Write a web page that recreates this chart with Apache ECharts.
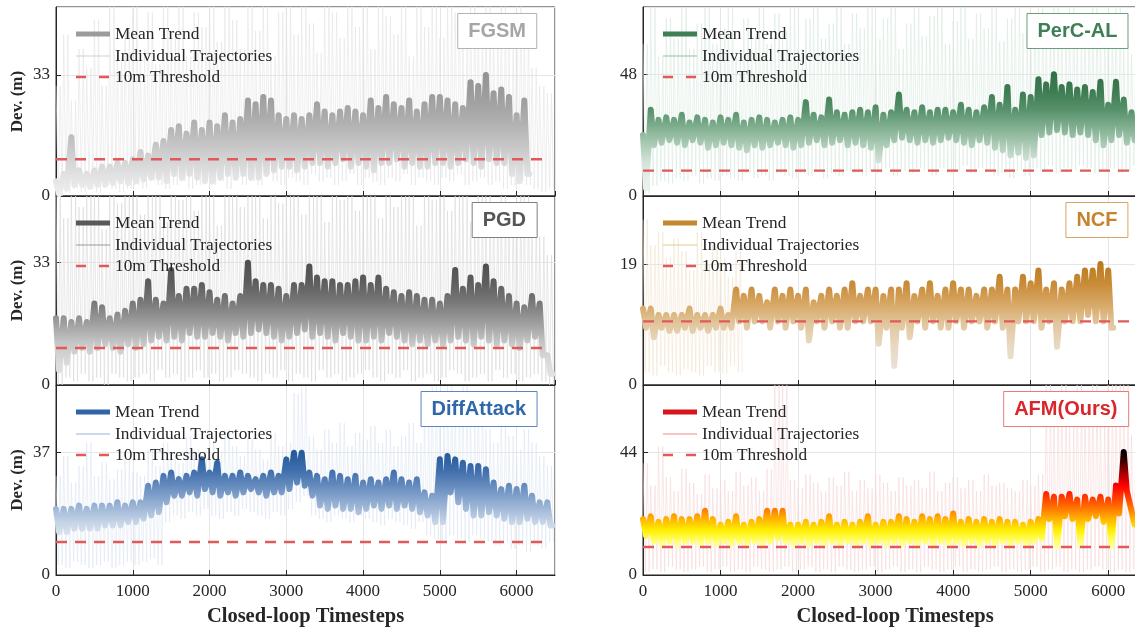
<!DOCTYPE html>
<html>
<head>
<meta charset="utf-8">
<script src="https://cdn.jsdelivr.net/npm/echarts@6/dist/echarts.min.js"></script>
<style>
html,body{margin:0;padding:0;background:#fff}
#main{width:1135px;height:627px}
</style>
</head>
<body>
<div id="main"></div>
<script>
// panel order: left/right, top to bottom
var panelNames = ['FGSM', 'PerC-AL', 'PGD', 'NCF', 'DiffAttack', 'AFM(Ours)']
var yTickVals = [33, 48, 33, 19, 37, 44]
var yMaxVals = [51.5, 74.5, 51, 29.7, 57.5, 68]
var xTickVals = [0, 1000, 2000, 3000, 4000, 5000, 6000]
var xMax = 6500
var binStep = 100
var threshold = 10
var thresholdEnd = [6380, 6500, 6360, 6500, 6380, 6500]
var legendNames = ['Mean Trend', 'Individual Trajectories', '10m Threshold']

// mean trend: upper / lower edge of the jagged band per 100-step bin
var fgsmHi = [4,6,16,7,6,7,8,8,9,9, 10,12,11,14,15,18,19,17,20,18, 20,19,22,20,21,26,25,27,26,22,
  21,22,21,22,25,23,22,23,24,23, 22,26,24,27,25,24,26,23,25,27, 27,26,25,24,31,30,33,28,29,27, 22,26]
var fgsmLo = [0.5,2,3,3,2.5,3,3,3.5,4,3.5, 4,4.5,5,5,4,6,5,6,5,4, 4,5,6,5,6,5,5,6,7,8,
  8,7,8,9,9,8,9,10,8,9, 8,7,9,9,10,8,9,8,8,9, 9,8,9,10,9,8,10,9,9,6, 4,6]

var percHi = [24,34,30,31,30,32,29,31,30,29, 31,30,32,29,30,31,30,29,30,31, 30,37,32,31,38,33,32,33,34,33,
  35,32,33,40,34,33,35,33,34,34, 33,36,34,33,35,39,36,43,34,40, 39,46,44,48,43,44,42,43,41,45, 36,45,38,33]
var percLo = [3,20,21,22,21,20,22,21,19,20, 21,20,19,18,20,19,20,21,20,19, 20,21,22,20,21,22,20,21,20,19,
  14,20,22,23,22,21,22,21,22,23, 22,21,20,22,21,19,18,16,17,15, 16,24,25,26,25,24,25,24,22,20, 22,24,21,22]

var pgdHi = [18,18,17,18,17,22,21,18,19,20, 22,23,28,23,22,31,24,26,26,27, 25,23,24,22,24,33,28,27,27,26,
  24,27,27,32,29,28,28,27,27,28, 29,27,29,26,25,24,25,24,23,23, 22,24,31,26,29,27,32,28,26,24, 22,21,24,22,8]
var pgdLo = [4,6,9,10,9,10,11,10,9,11, 10,11,12,13,12,13,12,14,13,13, 14,13,12,14,13,14,15,14,13,12,
  13,14,15,13,14,13,12,14,13,12, 12,13,12,14,13,12,11,12,11,12, 11,12,13,12,11,13,12,11,12,11, 10,12,13,8,3]

var ncfHi = [12,12,11,11,11,11,12,11,11,11, 12,11,15,14,15,14,13,15,14,15, 14,15,13,14,15,14,15,16,14,15,
  15,14,15,15,16,14,15,16,14,15, 16,15,15,14,15,15,17,15,15,17, 16,18,15,16,15,16,17,18,18,19, 18]
var ncfLo = [9,7.5,9,8.5,8.5,9,8.5,9,8.5,9, 9,9,10,9,10,10,9,10,9,10, 9,7,10,9,10,9,9,10,10,10,
  6.5,9,3,9,7.5,10,9,10,9,9, 10,9,10,10,9,10,9,4.5,10,10, 10,9,10,6,10,10,10,11,10,10, 9]

var diffHi = [20,20,20,21,20,21,21,21,22,21, 22,22,27,28,30,31,29,30,31,35, 31,34,30,30,31,30,29,30,31,30,
  35,37,37,31,30,29,31,30,29,30, 28,29,28,29,31,29,28,29,25,24, 35,36,35,34,33,33,32,28,26,27, 26,27,24,22,22]
var diffLo = [13,13,14,14,14,14,15,15,15,16, 16,17,18,19,22,24,24,25,24,26, 25,24,25,24,25,26,25,24,25,25,
  26,28,27,24,21,20,21,20,20,19, 20,21,20,21,20,21,20,19,18,16, 16,25,22,20,18,18,19,18,17,16, 16,17,16,16,15]

var afmHi = [20,21,19,20,21,20,20,21,23,20, 18,19,21,18,19,20,23,23,23,18, 18,19,18,19,21,18,19,18,19,21,
  18,19,19,21,20,19,21,20,21,20, 22,19,20,19,20,19,20,19,19,18, 19,20,29,28,28,29,27,28,27,28, 27,32,44,23]
var afmLo = [14,12,11,12,11,12,12,11,12,11, 12,11,12,11,12,11,12,13,12,11, 12,11,12,11,12,11,12,11,12,11,
  12,11,12,11,12,11,12,11,12,11, 12,11,12,11,12,11,12,11,12,11, 12,13,20,10,21,20,11,20,21,19, 10,22,30,18]

// individual trajectories: upper / lower reach per 100-step bin
var fgsmTrajHi = [30,44,26,40,35,48,30,52,38,45, 52,40,50,36,52,44,52,38,50,46, 52,42,52,48,40,52,45,52,38,50,
  52,44,52,47,39,52,50,43,52,46, 52,40,52,49,44,52,38,52,46,52, 43,52,50,41,52,47,52,44,52,40, 52,46,35,30,28]
var fgsmTrajLo = [0,1,2,1,2,1,3,2,1,2, 3,2,4,3,2,3,4,2,3,5, 3,4,2,5,3,4,3,6,4,3,
  5,4,3,6,4,5,3,4,6,3, 5,4,3,5,4,6,3,5,4,3, 5,4,6,3,4,5,3,4,2,3, 4,3,2,1,2]

var percTrajHi = [60,74,55,70,62,74,58,68,74,60, 66,74,57,70,63,74,60,72,65,74, 58,70,74,62,68,74,60,72,66,74,
  62,70,74,58,68,74,63,71,74,60, 69,74,62,72,66,74,61,70,74,64, 72,74,66,74,68,74,63,72,74,66, 70,74,60,56]
var percTrajLo = [1,4,6,5,7,6,8,5,7,6, 8,7,6,9,7,8,6,9,8,7, 9,8,10,7,9,8,10,9,8,10,
  9,11,8,10,9,11,10,8,11,9, 10,12,9,11,10,8,9,7,10,8, 11,10,12,9,11,10,12,11,9,10, 11,9,10,12]

var pgdTrajHi = [51,45,51,48,51,51,42,51,49,51, 51,46,51,51,44,51,50,51,47,51, 51,43,51,51,48,51,51,45,51,49,
  51,51,46,51,51,44,51,50,51,47, 51,51,45,51,48,51,51,43,51,50, 51,47,51,51,44,51,51,49,51,46, 51,51,45,40,35]
var pgdTrajLo = [0,2,1,3,1,2,0,3,2,1, 2,3,1,4,2,3,1,2,4,2, 3,1,2,4,3,2,1,3,2,4,
  1,3,2,1,4,2,3,1,2,3, 4,2,1,3,2,4,1,2,3,1, 2,4,3,1,2,3,1,4,2,3, 1,2,3,1,0]

var ncfTrajHi = [26,22,24,20,23,21,18,24,19,22,20,17,21]
var ncfTrajLo = [2,1.5,3,2,1.5,2.5,2,1.5,3,2,1.8,3,2]

var diffTrajHi = [30,36,28,33,40,30,34,29,32,35, 31,30,38,33,40,36,34,42,38,35, 40,37,44,39,36,41,38,35,43,39,
  40,55,57,42,38,44,40,46,39,43, 41,45,40,44,39,42,46,40,48,57, 50,57,52,57,48,55,44,40,46,42, 38,44,40,36,33]
var diffTrajLo = [3,2,4,3,2,3,4,2,3,4, 3,4,5,3,16,18,17,19,18,20, 18,17,19,18,20,19,18,17,19,18,
  20,22,24,18,17,16,18,17,16,18, 17,16,15,17,16,15,14,16,12,11, 10,12,11,10,12,11,10,9,10,8, 9,7,9,8,10]

var afmTrajHi = [40,32,46,35,30,38,33,29,36,31, 34,30,37,32,35,30,38,68,68,34, 31,36,33,30,35,32,37,30,34,31,
  36,33,30,35,32,34,31,37,30,33, 35,31,34,30,36,32,33,31,30,34, 32,36,68,60,68,55,68,64,68,58, 68,68,68,50,40]
var afmTrajLo = [1,2,1,3,2,1,2,3,1,2, 3,1,2,1,3,2,1,2,3,1, 2,3,1,2,1,3,2,1,2,3,
  1,2,3,1,2,1,3,2,1,2, 3,1,2,1,2,3,1,2,1,2, 3,1,2,3,1,2,1,2,3,2, 1,2,1,2,3]

var meanHi = [fgsmHi, percHi, pgdHi, ncfHi, diffHi, afmHi]
var meanLo = [fgsmLo, percLo, pgdLo, ncfLo, diffLo, afmLo]
var trajHi = [fgsmTrajHi, percTrajHi, pgdTrajHi, ncfTrajHi, diffTrajHi, afmTrajHi]
var trajLo = [fgsmTrajLo, percTrajLo, pgdTrajLo, ncfTrajLo, diffTrajLo, afmTrajLo]

// styles
var gridPos = [
  {left: 56, top: 7, width: 499, height: 189},
  {left: 643, top: 7, width: 504, height: 189},
  {left: 56, top: 196, width: 499, height: 189},
  {left: 643, top: 196, width: 504, height: 189},
  {left: 56, top: 385, width: 499, height: 190},
  {left: 643, top: 385, width: 504, height: 190}
]
var meanGrad = [
  ['#efefef', '#e2e2e2', '#d0d0d0', '#bcbcbc', '#aaaaaa', '#9d9d9d', '#939393'],
  ['#eef4f0', '#e6efe9', '#d0e2d6', '#a9c9b3', '#7fae8e', '#56906a', '#3e7c53', '#356f49'],
  ['#e6e6e6', '#dcdcdc', '#c8c8c8', '#a0a0a0', '#7a7a7a', '#5e5e5e', '#4e4e4e'],
  ['#f0ebe4', '#e8e0d4', '#e8d8c0', '#e2c79f', '#d7a866', '#c98c38', '#bb7a1e'],
  ['#eef2f7', '#eaeff5', '#e2e9f2', '#c5d4e7', '#98b2d4', '#6a8fc0', '#3f6eac', '#255a9c'],
  ['#ffffff', '#ffffff', '#ffffd8', '#ffff70', '#fff000', '#ffb400', '#ff7400', '#ff3800', '#ff0000', '#b00000', '#500000', '#000000']
]
var trajColors = ['#e4e4e4', '#d8eadf', '#d8d8d8', '#f2e4cf', '#dde6f2', '#f7d6d6']
var legendMeanColors = ['#9b9b9b', '#3f7f55', '#595959', '#c4862e', '#2f65a8', '#d8141c']
var legendTrajColors = ['#cfcfcf', '#93bf9f', '#9a9a9a', '#e8c99a', '#98b4da', '#f08a8a']
var titleColors = ['#a6a6a6', '#3f7f55', '#555555', '#c4832c', '#2f67ab', '#d9262a']
var titleBorders = ['#b3b3b3', '#6b9c7c', '#7f7f7f', '#d7a562', '#5b86c0', '#e87a7a']
var threshColor = '#e05a5a'
var axisColor = '#262626'
var serif = 'Liberation Serif'

// jagged line: walks through the band edges at the given offsets inside each bin
function band(hi, lo, offs, pick) {
  var pts = []
  for (var i = 0; i < hi.length; i++) {
    for (var j = 0; j < offs.length; j++) {
      pts.push([i * binStep + offs[j], pick[j] ? hi[i] : lo[i]])
    }
  }
  return pts
}

var grids = [], xAxes = [], yAxes = [], series = [], visualMaps = [], titles = [], graphics = []

panelNames.forEach(function (name, k) {
  var g = gridPos[k]
  var isLeft = k % 2 === 0
  var isBottom = k >= 4
  grids.push({left: g.left, top: g.top, width: g.width, height: g.height,
    outerBoundsMode: 'none', containLabel: false,
    show: true, borderColor: axisColor, borderWidth: 1, backgroundColor: '#fff'})
  xAxes.push({
    type: 'value', gridIndex: k, min: 0, max: xMax, interval: 1000,
    name: isBottom ? 'Closed-loop Timesteps' : '',
    nameLocation: 'middle', nameGap: 31,
    nameTextStyle: {fontFamily: serif, fontWeight: 'bold', fontSize: 20.5, color: axisColor},
    axisLine: {show: true, lineStyle: {color: axisColor, width: 1}},
    axisTick: {show: true, inside: true, length: 5, lineStyle: {color: axisColor}},
    axisLabel: {show: isBottom, showMaxLabel: false, margin: 8,
      fontFamily: serif, fontSize: 17, color: axisColor,
      formatter: function (v) { return String(v) }},
    splitLine: {show: true, lineStyle: {color: '#e6e6e6', width: 1}}
  })
  yAxes.push({
    type: 'value', gridIndex: k, min: 0, max: yMaxVals[k], interval: yTickVals[k],
    name: isLeft ? 'Dev. (m)' : '',
    nameLocation: 'middle', nameGap: 30, nameRotate: 90,
    nameTextStyle: {fontFamily: serif, fontWeight: 'bold', fontSize: 17, color: axisColor},
    axisLine: {show: true, lineStyle: {color: axisColor, width: 1}},
    axisTick: {show: true, inside: true, length: 5, lineStyle: {color: axisColor}},
    axisLabel: {showMaxLabel: false, margin: 6, fontFamily: serif, fontSize: 17, color: axisColor},
    splitLine: {show: true, lineStyle: {color: '#e6e6e6', width: 1}}
  })
  series.push({
    name: legendNames[1], type: 'line', xAxisIndex: k, yAxisIndex: k,
    data: band(trajHi[k], trajLo[k], [0, 30, 55, 80], [1, 0, 1, 0]), symbol: 'none', silent: true, z: 1,
    lineStyle: {color: trajColors[k], width: 0.8, opacity: 0.75}
  })
  series.push({
    name: legendNames[0], type: 'line', xAxisIndex: k, yAxisIndex: k,
    data: band(meanHi[k], meanLo[k], [0, 40, 65], [1, 0, 0]), symbol: 'none', silent: true, z: 3,
    lineStyle: {width: 6, join: 'round', cap: 'round'}
  })
  series.push({
    name: legendNames[2], type: 'line', xAxisIndex: k, yAxisIndex: k,
    data: [[0, threshold], [thresholdEnd[k], threshold]], symbol: 'none', silent: true, z: 4,
    lineStyle: {color: threshColor, width: 2.4, type: [11, 8]}
  })
  var hiMax = Math.max.apply(null, meanHi[k])
  visualMaps.push({
    type: 'continuous', show: false, seriesIndex: k * 3 + 1, dimension: 1,
    min: 0, max: hiMax, inRange: {color: meanGrad[k]}
  })
  titles.push({
    text: name,
    right: isLeft ? 598 : 6.5,
    top: g.top + 6,
    padding: [8, 11],
    borderColor: titleBorders[k], borderWidth: 1, backgroundColor: '#fff',
    textStyle: {fontFamily: 'Liberation Sans', fontWeight: 'bold', fontSize: 20, color: titleColors[k]}
  })
  // legend block
  var lx0 = g.left + 20, lx1 = g.left + 54, tx = g.left + 59
  var rows = [g.top + 27, g.top + 49, g.top + 70]
  graphics.push({type: 'line', shape: {x1: lx0, y1: rows[0], x2: lx1, y2: rows[0]},
    style: {stroke: legendMeanColors[k], lineWidth: 5}, z: 100})
  graphics.push({type: 'line', shape: {x1: lx0, y1: rows[1], x2: lx1, y2: rows[1]},
    style: {stroke: legendTrajColors[k], lineWidth: 1.2}, z: 100})
  graphics.push({type: 'line', shape: {x1: lx0, y1: rows[2], x2: lx1, y2: rows[2]},
    style: {stroke: threshColor, lineWidth: 2.4, lineDash: [10, 13]}, z: 100})
  legendNames.forEach(function (ln, r) {
    graphics.push({type: 'text', x: tx, y: rows[r], z: 100,
      style: {text: ln, font: '17.3px "' + serif + '"', fill: axisColor, verticalAlign: 'middle'}})
  })
})

var chart = echarts.init(document.getElementById('main'), null, {renderer: 'canvas'})
chart.setOption({
  animation: false,
  backgroundColor: '#fff',
  title: titles,
  grid: grids,
  xAxis: xAxes,
  yAxis: yAxes,
  visualMap: visualMaps,
  series: series,
  graphic: graphics
})
</script>
</body>
</html>
